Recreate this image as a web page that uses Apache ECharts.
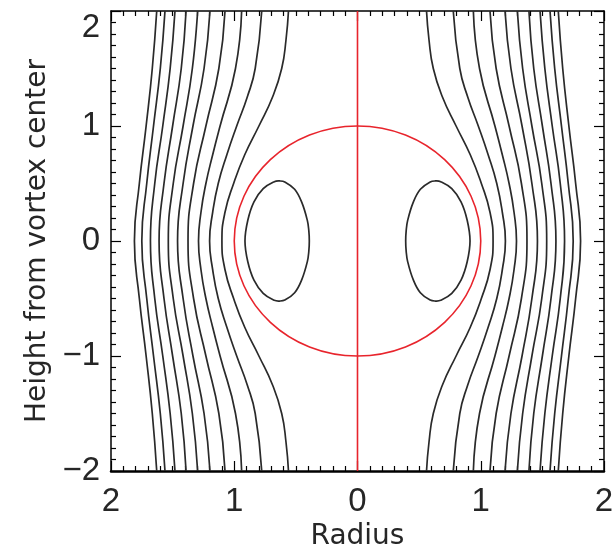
<!DOCTYPE html>
<html>
<head>
<meta charset="utf-8">
<script src="https://cdn.jsdelivr.net/npm/echarts@6/dist/echarts.min.js"></script>
<style>
  html, body { margin: 0; padding: 0; background: #fff; }
  #chart { width: 616px; height: 554px; }
</style>
</head>
<body>
<div id="chart"></div>
<script>
// heights (upper half; mirrored below 0) at which the contour radii were read
const rowHeights = [0, 0.25, 0.5, 0.75, 1, 1.25, 1.5, 1.75, 2];

// open stream lines, radius at each row height (null = not read)
const line1 = [1.10, 1.075, 1.005, 0.915, 0.80, 0.69, 0.615, 0.58, 0.56];
const line2 = [1.20, 1.175, 1.13, 1.06, 0.98, 0.895, 0.83, null, 0.777];
const line3 = [1.29, 1.27, 1.23, 1.175, 1.115, null, 0.99, null, 0.94];
const line4 = [1.375, null, 1.33, null, 1.23, null, 1.125, null, 1.075];
const line5 = [1.46, null, 1.415, null, 1.335, null, 1.245, null, 1.197];
const line6 = [1.535, null, 1.495, null, 1.415, null, 1.34, null, 1.297];
const line7 = [1.61, null, 1.57, null, 1.50, null, 1.43, null, 1.391];
const line8 = [1.68, null, 1.645, null, 1.58, null, 1.52, null, 1.481];
const line9 = [1.75, null, 1.71, null, 1.655, null, 1.60, null, 1.562];
const line10 = [1.81, null, 1.77, null, 1.715, null, 1.665, null, 1.629];
const openLines = [line1, line2, line3, line4, line5, line6, line7, line8, line9, line10];

// closed loop inside the vortex, upper half of the right one (inner edge -> outer edge)
const loopRadius = [0.391, 0.395, 0.407, 0.452, 0.51, 0.59, 0.632, 0.675, 0.765, 0.84, 0.89, 0.913];
const loopHeight = [0, 0.09, 0.179, 0.336, 0.45, 0.514, 0.522, 0.516, 0.455, 0.34, 0.18, 0];

// vortex boundary: centre and radius
const vortexCenter = [0, 0];
const vortexRadius = 1;

// axis of symmetry r = 0
const symmetryLineY = [-2, 2];

const TICK_FONT = 'Liberation Sans';
const NAME_FONT = 'DejaVu Sans';
const INK = '#262626';
const CURVE = '#2a2a2a';
const RED = '#e8242c';

function profile(radii, sign) {
    let pts = [];
    for (let i = rowHeights.length - 1; i >= 1; i--) {
        if (radii[i] != null) pts.push([sign * radii[i], -rowHeights[i]]);
    }
    for (let i = 0; i < rowHeights.length; i++) {
        if (radii[i] != null) pts.push([sign * radii[i], rowHeights[i]]);
    }
    return pts;
}

// upper half as read, lower half mirrored (end points on z = 0 not repeated)
function loopOutline(sign) {
    let pts = loopRadius.map((r, i) => [sign * r, loopHeight[i]]);
    for (let i = loopRadius.length - 2; i >= 1; i--) {
        pts.push([sign * loopRadius[i], -loopHeight[i]]);
    }
    return pts;
}

let openShapes = [];
openLines.forEach((radii) => {
    openShapes.push(profile(radii, -1));
    openShapes.push(profile(radii, 1));
});
let loopShapes = [loopOutline(-1), loopOutline(1)];

function curveSeries(shapes, closed, smooth) {
    return {
        type: 'custom',
        coordinateSystem: 'cartesian2d',
        silent: true,
        clip: true,
        data: shapes.map((s) => s[0]),
        renderItem: (params, api) => {
            const pts = shapes[params.dataIndex].map((p) => api.coord(p));
            return {
                type: closed ? 'polygon' : 'polyline',
                shape: {points: pts, smooth: smooth},
                style: {stroke: CURVE, lineWidth: 1.7, fill: 'none'}
            };
        }
    };
}

let series = [
    curveSeries(openShapes, false, 0.5),
    curveSeries(loopShapes, true, 0.4),
    {
        type: 'custom',
        coordinateSystem: 'cartesian2d',
        silent: true,
        data: [[vortexCenter[0], vortexCenter[1], vortexRadius]],
        renderItem: (params, api) => {
            const c = api.coord([api.value(0), api.value(1)]);
            const s = api.size([api.value(2), api.value(2)]);
            return {
                type: 'ellipse',
                shape: {cx: c[0], cy: c[1], rx: s[0], ry: s[1]},
                style: {stroke: RED, lineWidth: 1.6, fill: 'none'}
            };
        }
    },
    {
        type: 'line',
        data: symmetryLineY.map((y) => [0, y]),
        symbol: 'none',
        silent: true,
        lineStyle: {color: RED, width: 1.6}
    }
];

function tickLabel(v) {
    return String(Math.abs(v));
}
function signedLabel(v) {
    return v < 0 ? '\u2212' + Math.abs(v) : String(v);
}

function frameAxis(pos, extra) {
    return Object.assign({
        type: 'value', position: pos, min: -2, max: 2, interval: 1,
        axisLine: {show: true, onZero: false, lineStyle: {color: '#000', width: 1.5}},
        axisTick: {show: true, inside: true, length: 10, lineStyle: {color: '#000', width: 1.2}},
        minorTick: {show: true, splitNumber: 10, length: 5, lineStyle: {color: '#000', width: 1.2}},
        splitLine: {show: false},
        axisLabel: {show: false}
    }, extra || {});
}

var chart = echarts.init(document.getElementById('chart'));
var option = {
    animation: false,
    backgroundColor: '#fff',
    grid: {left: 111, right: 12, top: 11, bottom: 83, containLabel: false, outerBoundsMode: 'none'},
    xAxis: [
        frameAxis('bottom', {
            axisLine: {show: true, onZero: false, lineStyle: {color: '#000', width: 2.5}},
            axisLabel: {show: true, formatter: tickLabel, fontSize: 33, margin: 14, color: INK, fontFamily: TICK_FONT},
            name: 'Radius', nameLocation: 'middle', nameGap: 52,
            nameTextStyle: {fontSize: 28, color: INK, fontFamily: NAME_FONT}
        }),
        frameAxis('top')
    ],
    yAxis: [
        frameAxis('left', {
            axisLabel: {
                show: true, formatter: signedLabel, fontSize: 33, margin: 11, color: INK, fontFamily: TICK_FONT,
                verticalAlignMaxLabel: 'top'
            },
            name: 'Height from vortex center', nameLocation: 'middle', nameGap: 58,
            nameTextStyle: {fontSize: 28, color: INK, fontFamily: NAME_FONT}
        }),
        frameAxis('right')
    ],
    series: series
};
chart.setOption(option);
</script>
</body>
</html>
